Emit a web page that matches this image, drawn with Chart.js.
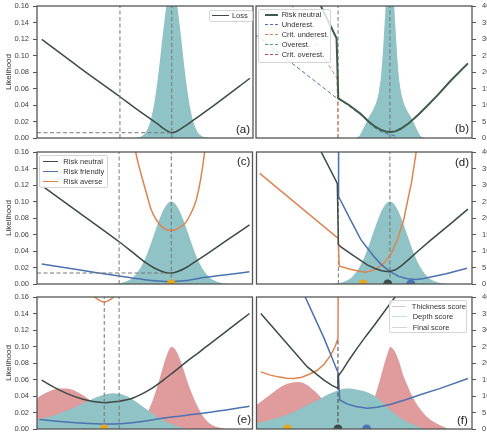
<!DOCTYPE html>
<html>
<head>
<meta charset="utf-8">
<script src="https://cdn.jsdelivr.net/npm/chart.js@4.4.0/dist/chart.umd.min.js"></script>
<style>
  body { margin: 0; width: 487px; height: 439px; overflow: hidden; background: #fff; position: relative;
         font-family: 'Liberation Sans', Arial, sans-serif; }
  .panel { position: absolute; }
  .legend { position: absolute; box-sizing: border-box; background: rgba(255,255,255,0.8); border: 1px solid #d4d4d4;
            border-radius: 2px; font-size: 7.5px; color: #333; z-index: 5; }
  .row { display: flex; align-items: center; white-space: nowrap; }
  .sw { display: inline-block; height: 0; }
  .tag { position: absolute; font-size: 11.5px; color: #222; z-index: 5; line-height: 1; }
</style>
</head>
<body>
<div class="panel" style="left:0;top:-6px;width:257px;height:156px"><canvas id="pa"></canvas></div>
<div class="panel" style="left:252px;top:-6px;width:240px;height:156px"><canvas id="pb"></canvas></div>
<div class="panel" style="left:0;top:140px;width:257px;height:156px"><canvas id="pc"></canvas></div>
<div class="panel" style="left:252px;top:140px;width:240px;height:156px"><canvas id="pd"></canvas></div>
<div class="panel" style="left:0;top:285px;width:257px;height:156px"><canvas id="pe"></canvas></div>
<div class="panel" style="left:252px;top:285px;width:240px;height:156px"><canvas id="pf"></canvas></div>
<script>
// x is given in % of the plotted range; losses on the 0-40 axis, likelihoods on the 0-0.16 axis.

// (a)
const uLossA = [2.2, 20, 38.4, 45, 52.3, 56, 58.5, 60.5, 62.4, 64.3, 66.2, 69, 72.4, 83.2, 98.6]
const lossA  = [29.9, 21.2, 12.5, 9.3, 5.9, 4.2, 2.9, 2.1, 1.6, 1.9, 2.6, 3.8, 5.4, 10.5, 18.1]
const uLikA  = [44.4, 46.4, 48.4, 50.4, 52.4, 54.4, 56.4, 58.4, 60.4, 62.4, 64.4, 66.4, 68.4, 70.4, 72.4, 74.4, 76.4, 78.4, 80.4]
const likA   = [0.0001, 0.0006, 0.0022, 0.0071, 0.0193, 0.0435, 0.082, 0.129, 0.169, 0.185, 0.169, 0.129, 0.082, 0.0435, 0.0193, 0.0071, 0.0022, 0.0006, 0.0001]
const vlinesA = [38.4, 62.4]
const minLossA = 1.6

// (b)
const uRnB = [29.8, 37.3, 38.1, 43, 48.3, 52, 55, 58, 60, 62.2, 64.5, 67, 70.6, 75, 79.2, 84, 89.9, 98.1]
const rnB  = [40.3, 30.2, 12.0, 10.0, 7.4, 5.1, 3.5, 2.4, 2.0, 1.8, 2.0, 2.8, 4.4, 7.0, 9.7, 12.9, 17.2, 22.6]
const uUnderB = [0, 15.8, 37.5, 38.1, 43, 48.3, 52, 55, 58, 60, 62.2, 64.5]
const underB  = [31.2, 23.1, 12.0, 11.9, 9.8, 7.1, 4.8, 3.1, 1.9, 1.4, 1.0, 0.6]
const uCritUnderB = [16.2, 31.3, 37.5, 38.0]
const critUnderB  = [40.5, 24.6, 18.1, 0]
const uLikB = [46, 48, 50, 52, 54, 56, 57, 58, 59, 60, 61, 62, 63, 64, 65, 66, 67, 68, 70, 72, 74, 76, 78]
const likB  = [0, 0.003, 0.013, 0.024, 0.033, 0.046, 0.058, 0.078, 0.115, 0.16, 0.21, 0.25, 0.21, 0.16, 0.115, 0.078, 0.058, 0.046, 0.033, 0.024, 0.013, 0.003, 0]
const vlinesB = [38.0, 62.0]
const labelsB = ['Risk neutral', 'Underest.', 'Crit. underest.', 'Overest.', 'Crit. overest.']

// (c)
const uRnC = [2.9, 20, 38.1, 44, 50.8, 54, 56.9, 59.5, 62.3, 65, 69.3, 74, 78.6, 88, 98.6]
const rnC  = [29.5, 21.4, 12.8, 9.8, 6.3, 5.0, 4.1, 3.5, 3.3, 3.7, 5.0, 7.0, 9.0, 13.2, 17.9]
const uFriendC = [2.2, 20, 38.1, 50, 56, 62.3, 68, 75, 86, 98.6]
const friendC  = [6.06, 4.25, 2.4, 1.3, 0.9, 0.7, 0.95, 1.7, 2.65, 3.7]
const uAverseC = [44.5, 45.8, 48, 50.8, 53, 55.4, 58.5, 62.3, 66, 69.3, 71.5, 73.9, 76, 77.8, 78.6]
const averseC  = [45, 40, 34, 27.5, 22.5, 19.4, 17, 16.2, 17, 18.9, 21.5, 25.5, 32, 40, 45]
const uLikC = [34.3, 36.3, 38.3, 40.3, 42.3, 44.3, 46.3, 48.3, 50.3, 52.3, 54.3, 56.3, 58.3, 60.3, 62.3,
               64.3, 66.3, 68.3, 70.3, 72.3, 74.3, 76.3, 78.3, 80.3, 82.3, 84.3, 86.3, 88.3, 90.3]
const likC  = [0, 0.0004, 0.001, 0.0021, 0.0041, 0.0074, 0.0129, 0.0208, 0.0315, 0.045, 0.060, 0.075, 0.088, 0.0968, 0.100,
               0.0968, 0.088, 0.075, 0.060, 0.045, 0.0315, 0.0208, 0.0129, 0.0074, 0.0041, 0.0021, 0.001, 0.0004, 0]
const vlinesC = [38.1, 62.3]
const minLossC = 3.33
const labelsCD = ['Risk neutral', 'Risk friendly', 'Risk averse']

// (d)
const uRnD = [29.8, 37.5, 38.0, 39, 45, 51.4, 55, 58, 61.5, 64.5, 67, 70, 75, 80.7, 90, 98.1]
const rnD  = [40.3, 30.5, 12.0, 11.3, 8.6, 5.8, 4.7, 4.0, 3.7, 4.3, 5.4, 7.1, 10.0, 13.2, 18.2, 22.7]
const uFriendD = [38.1, 38.1, 44, 48.3, 50.6, 54.4, 58, 62.2, 66, 70, 74, 77.6, 88, 97.7]
const friendD  = [42, 26.5, 19.0, 13.6, 11.6, 8.4, 5.8, 3.7, 2.3, 1.6, 1.4, 1.7, 3.1, 4.75]
const uAverseD = [1.5, 37.9, 38.4, 44, 48.3, 50.6, 54.4, 57, 59.1, 62.2, 65.3, 68.3, 69.9, 72, 74.1, 75]
const averseD  = [33.5, 13.8, 5.4, 4.4, 3.8, 3.6, 4.2, 5.2, 6.3, 8.8, 13.3, 19.4, 24.5, 31, 40, 44]
const uLikD = [33.9, 35.9, 37.9, 39.9, 41.9, 43.9, 45.9, 47.9, 49.9, 51.9, 53.9, 55.9, 57.9, 59.9, 61.9,
               63.9, 65.9, 67.9, 69.9, 71.9, 73.9, 75.9, 77.9, 79.9, 81.9, 83.9, 85.9, 87.9, 89.9]
const likD  = [0, 0.0004, 0.001, 0.0021, 0.0041, 0.0074, 0.0129, 0.0208, 0.0315, 0.045, 0.060, 0.075, 0.088, 0.0968, 0.100,
               0.0968, 0.088, 0.075, 0.060, 0.045, 0.0315, 0.0208, 0.0129, 0.0074, 0.0041, 0.0021, 0.001, 0.0004, 0]
const vlinesD = [38.0, 61.9]
const optimaD = [49.5, 60.9, 71.6]

// (e)
const uRnE = [2.2, 8, 13.7, 21.4, 26, 31.5, 37, 44.6, 52.3, 58, 63.1, 69, 75.5, 81, 87.8, 98.6]
const rnE  = [14.8, 12.6, 10.8, 9.0, 8.3, 7.95, 8.3, 9.4, 11.9, 14.5, 17.1, 20.2, 23.4, 26.2, 29.6, 35.0]
const uFriendE = [1.1, 12, 24, 33.8, 45, 60, 78.6, 98.6]
const friendE  = [2.9, 2.2, 1.7, 1.5, 2.0, 3.4, 4.9, 6.9]
const uAverseE = [25, 26.1, 28, 31.2, 34.4, 36.3, 37.4]
const averseE  = [41.5, 40.4, 39.4, 38.5, 39.4, 40.4, 41.5]
const uDepthE = [0, 6, 13.7, 21.4, 29.2, 35.3, 41.5, 49.2, 56.9, 64.7, 70.9, 100]
const depthE  = [0.012, 0.015, 0.022, 0.031, 0.040, 0.0432, 0.040, 0.027, 0.013, 0.004, 0, 0]
const uThickE = [0, 2, 5, 8, 13, 17, 20, 24, 28, 32, 36, 40, 44, 48, 50, 52, 54, 56, 58, 60, 62.4,
                 64, 66, 68, 70, 72, 74, 76, 78, 80, 82, 84, 86, 88]
const thickE  = [0.037, 0.041, 0.045, 0.048, 0.049, 0.047, 0.043, 0.036, 0.027, 0.018, 0.011, 0.007, 0.005, 0.008, 0.014,
                 0.024, 0.037, 0.053, 0.071, 0.088, 0.0995, 0.097, 0.087, 0.072, 0.056, 0.042, 0.030, 0.020, 0.012,
                 0.007, 0.004, 0.002, 0.001, 0]
const vlinesE = [31.2, 38.1]
const optimaE = [31.2]

// (f)
const uRnF = [2.0, 12.8, 23.6, 31.3, 35, 37.8, 37.8, 40, 43, 46.8, 50.5, 54.4, 59, 64.5, 66]
const rnF  = [35.0, 26.9, 18.8, 14.8, 13.2, 12.3, 16.0, 17.9, 21.0, 24.6, 27.9, 31.2, 35.3, 40.2, 41.5]
const uFriendF = [20.5, 31.3, 38.0, 38.6, 42, 46, 51.4, 56, 62, 69.9, 77, 85.3, 98.1]
const friendF  = [43, 27.6, 16.8, 8.8, 7.6, 6.8, 6.3, 6.6, 7.4, 9.0, 10.6, 12.3, 15.3]
const uAverseF = [2.0, 6, 10, 14, 17.4, 21, 24.5, 28.2, 31.5, 34.4, 36.5, 37.8, 37.9]
const averseF  = [17.3, 16.4, 15.8, 15.4, 15.3, 15.7, 16.6, 17.8, 19.7, 22.4, 25.0, 27.4, 42]
const uDepthF = [0, 8, 15.9, 22, 28.2, 35, 42.1, 48, 54.4, 58, 62.2, 66, 69.9, 74, 79.2, 100]
const depthF  = [0.0069, 0.012, 0.019, 0.027, 0.035, 0.044, 0.049, 0.047, 0.041, 0.033, 0.023, 0.015, 0.0088, 0.004, 0, 0]
const uThickF = [0, 4, 8, 12, 16, 19.7, 23, 27, 30, 34, 38, 42, 46, 49, 51, 53, 55, 57, 59, 61, 62,
                 64, 66, 68, 70, 73, 76, 79, 82, 85, 88.4]
const thickF  = [0.029, 0.037, 0.045, 0.052, 0.056, 0.057, 0.054, 0.046, 0.038, 0.028, 0.018, 0.010, 0.007, 0.010, 0.016,
                 0.026, 0.040, 0.057, 0.076, 0.093, 0.0995, 0.095, 0.083, 0.066, 0.053, 0.036, 0.024, 0.015, 0.009, 0.005, 0.001]
const cutF = [37.8, 27.4]
const optimaF = [14.4, 37.8, 51.1]
const labelsF = ['Thickness score', 'Depth score', 'Final score']

const FONT = "'Liberation Sans', Arial, sans-serif"
const DARK = '#3e4a45'
const DARK_GREEN = '#3f5c4d'
const BLUE = '#4c72b0'
const ORANGE = '#dd8452'
const GREEN = '#55a868'
const RED = '#c44e52'
const GOLD = '#eba61c'
const TEAL = '#8fc3c5'
const PINK = '#e09b9d'

const pts = (xs, ys) => xs.map((x, i) => ({ x, y: ys[i] }))

function curve(xs, ys, color, extra) {
  return Object.assign({
    data: pts(xs, ys), borderColor: color, borderWidth: 1.5, pointRadius: 0,
    fill: false, tension: 0, yAxisID: 'y2'
  }, extra)
}
const smooth = { cubicInterpolationMode: 'monotone' }
function area(xs, ys, color) {
  return {
    data: pts(xs, ys), borderWidth: 0, borderColor: color, backgroundColor: color,
    fill: 'origin', pointRadius: 0, cubicInterpolationMode: 'monotone', yAxisID: 'y'
  }
}
function dashed(xs, ys, color) {
  return curve(xs, ys, color || '#777', { borderWidth: 1, borderDash: [4, 2.5] })
}
const vline = x => dashed([x, x], [0, 40])
function dots(xs, colors) {
  return {
    data: xs.map(x => ({ x, y: 0 })), showLine: false, pointRadius: 4.5, pointBorderWidth: 0,
    pointBackgroundColor: colors, yAxisID: 'y2'
  }
}

const framePlugin = {
  id: 'frame',
  afterDraw(chart) {
    const { ctx, chartArea: a } = chart
    ctx.save()
    ctx.strokeStyle = '#555'
    ctx.lineWidth = 1.3
    ctx.strokeRect(a.left, a.top, a.right - a.left, a.bottom - a.top)
    ctx.restore()
  }
}

// padding of 12 is larger than the tick-label overflow, so the plot area lands exactly 12px in
function makePanel(id, datasets, left) {
  const tickFont = { size: 7.5, family: FONT }
  new Chart(document.getElementById(id), {
    type: 'line',
    data: { datasets },
    options: {
      animation: false, responsive: true, maintainAspectRatio: false, events: [],
      layout: { padding: left ? { left: 0, right: 4, top: 12, bottom: 12 } : { left: 4, right: 0, top: 12, bottom: 12 } },
      plugins: { legend: { display: false }, tooltip: { enabled: false } },
      scales: {
        x: { type: 'linear', min: 0, max: 100, display: false },
        y: {
          min: 0, max: 0.16, display: left, position: 'left',
          afterFit: s => { s.width = left ? 37 : 0 },
          ticks: { stepSize: 0.02, autoSkip: false, padding: 4, color: '#444', font: tickFont, callback: v => v.toFixed(2) },
          grid: { drawOnChartArea: false, tickLength: 4, color: '#555' },
          border: { display: false },
          title: { display: true, text: 'Likelihood', color: '#333', font: { size: 8, family: FONT }, padding: { top: 4, bottom: 2 } }
        },
        y2: {
          min: 0, max: 40, display: !left, position: 'right',
          afterFit: s => { s.width = left ? 0 : 20 },
          ticks: { stepSize: 5, autoSkip: false, padding: 6, color: '#444', font: tickFont },
          grid: { drawOnChartArea: false, tickLength: 4, color: '#555' },
          border: { display: false }
        }
      }
    },
    plugins: [framePlugin]
  })
}

makePanel('pa', [
  vline(vlinesA[0]), vline(vlinesA[1]),
  dashed([0, vlinesA[1]], [minLossA, minLossA]),
  curve(uLossA, lossA, DARK, smooth),
  area(uLikA, likA, TEAL)
], true)

makePanel('pb', [
  curve(uRnB, rnB, DARK_GREEN, { borderWidth: 2 }),
  dashed(uRnB.slice(2), rnB.slice(2), GREEN),
  dashed(uRnB.slice(2), rnB.slice(2), RED),
  dashed(uUnderB, underB, BLUE),
  dashed(uCritUnderB, critUnderB, ORANGE),
  vline(vlinesB[0]), vline(vlinesB[1]),
  area(uLikB, likB, TEAL)
], false)

makePanel('pc', [
  dots([vlinesC[1]], [GOLD]),
  vline(vlinesC[0]), vline(vlinesC[1]),
  dashed([0, vlinesC[1]], [minLossC, minLossC]),
  curve(uRnC, rnC, DARK, smooth),
  curve(uFriendC, friendC, BLUE, smooth),
  curve(uAverseC, averseC, ORANGE, smooth),
  area(uLikC, likC, TEAL)
], true)

makePanel('pd', [
  dots(optimaD, [GOLD, DARK, BLUE]),
  curve(uRnD, rnD, DARK),
  curve(uFriendD, friendD, BLUE),
  curve(uAverseD, averseD, ORANGE),
  vline(vlinesD[0]), vline(vlinesD[1]),
  area(uLikD, likD, TEAL)
], false)

makePanel('pe', [
  dots(optimaE, [GOLD]),
  vline(vlinesE[0]), vline(vlinesE[1]),
  curve(uRnE, rnE, DARK, smooth),
  curve(uFriendE, friendE, BLUE, smooth),
  curve(uAverseE, averseE, ORANGE, smooth),
  area(uDepthE, depthE, TEAL),
  area(uThickE, thickE, PINK)
], true)

makePanel('pf', [
  dots(optimaF, [GOLD, DARK, BLUE]),
  dashed([cutF[0], cutF[0]], [0, cutF[1]], '#444'),
  curve(uRnF, rnF, DARK),
  curve(uFriendF, friendF, BLUE),
  curve(uAverseF, averseF, ORANGE),
  area(uDepthF, depthF, TEAL),
  area(uThickF, thickF, PINK)
], false)

// legends and panel tags
function addLegend(box, labels, styles) {
  const div = document.createElement('div')
  div.className = 'legend'
  Object.assign(div.style, { left: box.x + 'px', top: box.y + 'px', width: box.w + 'px', height: box.h + 'px' })
  labels.forEach((text, i) => {
    const [color, dash, width] = styles[i]
    const row = document.createElement('div')
    row.className = 'row'
    row.style.height = box.rowH + 'px'
    const sw = document.createElement('span')
    sw.className = 'sw'
    Object.assign(sw.style, {
      marginLeft: box.ml + 'px', width: box.sw + 'px', marginRight: box.gap + 'px',
      borderTop: width + 'px ' + dash + ' ' + color
    })
    const t = document.createElement('span')
    t.textContent = text
    row.append(sw, t)
    div.append(row)
  })
  document.body.append(div)
}

addLegend({ x: 209, y: 9.5, w: 44, h: 12, rowH: 10.5, ml: 2, sw: 16.5, gap: 3.4 },
  ['Loss'], [[DARK, 'solid', 1.5]])
addLegend({ x: 258, y: 9, w: 73, h: 54, rowH: 9.8, ml: 6, sw: 13, gap: 3.7 },
  labelsB, [[DARK_GREEN, 'solid', 2], [BLUE, 'dashed', 1], [ORANGE, 'dashed', 1], [GREEN, 'dashed', 1], [RED, 'dashed', 1]])
addLegend({ x: 39, y: 155, w: 69, h: 33, rowH: 10.3, ml: 3.3, sw: 15, gap: 5 },
  labelsCD, [[DARK, 'solid', 1.5], [BLUE, 'solid', 1.5], [ORANGE, 'solid', 1.5]])
addLegend({ x: 389, y: 300, w: 78, h: 33, rowH: 10.6, ml: 2, sw: 14.7, gap: 6 },
  labelsF, [['#e2c6c7', 'solid', 1], ['#c6dcdc', 'solid', 1], ['#d4d4d4', 'solid', 1]])

const tags = [['(a)', 236, 124], ['(b)', 455, 123], ['(c)', 237, 156], ['(d)', 455, 157], ['(e)', 237, 414], ['(f)', 457, 415]]
tags.forEach(([t, x, y]) => {
  const d = document.createElement('div')
  d.className = 'tag'
  d.style.left = x + 'px'
  d.style.top = y + 'px'
  d.textContent = t
  document.body.append(d)
})
</script>
</body>
</html>
